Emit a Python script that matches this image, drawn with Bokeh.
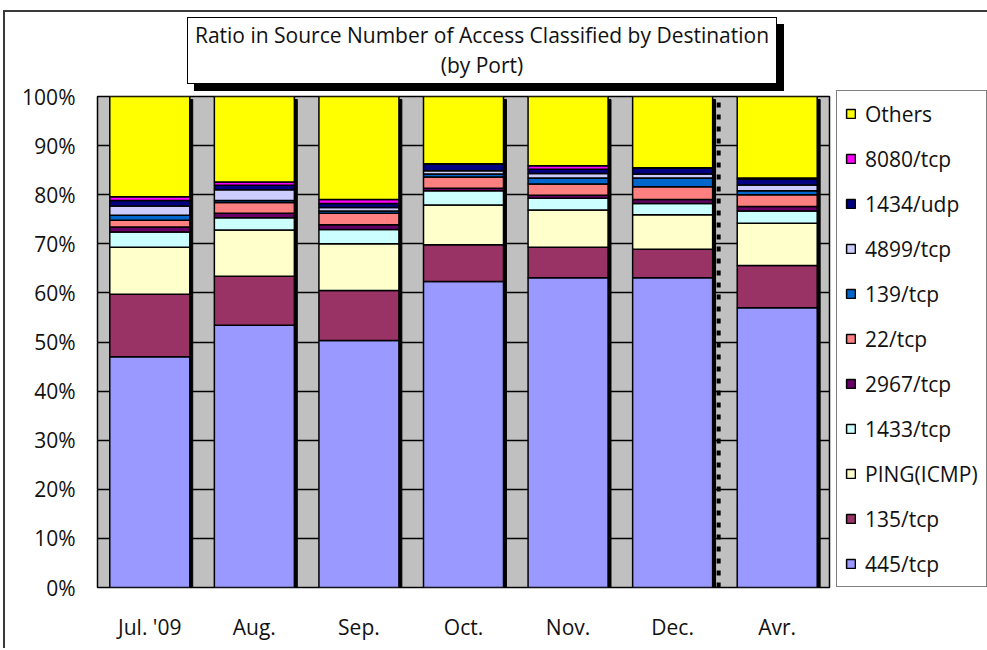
from bokeh.plotting import figure
from bokeh.models import (ColumnDataSource, FactorRange, FixedTicker, PrintfTickFormatter,
                          Legend, LegendItem, Div)
from bokeh.layouts import column
from bokeh.transform import dodge
from bokeh.embed import file_html
from bokeh.resources import INLINE

# ---------------- data (percent of source number) ----------------
months = ["Jul. '09", "Aug.", "Sep.", "Oct.", "Nov.", "Dec.", "Avr."]
ports = ["445/tcp", "135/tcp", "PING(ICMP)", "1433/tcp", "2967/tcp", "22/tcp",
         "139/tcp", "4899/tcp", "1434/udp", "8080/tcp", "Others"]

p445   = [47.0, 53.4, 50.3, 62.3, 63.1, 63.1, 57.0]
p135   = [12.7, 10.0, 10.2, 7.5, 6.2, 5.8, 8.6]
ping   = [9.6, 9.4, 9.5, 8.1, 7.6, 7.0, 8.6]
p1433  = [3.1, 2.5, 2.9, 2.9, 2.4, 2.3, 2.5]
p2967  = [1.0, 0.9, 1.0, 0.5, 0.6, 0.8, 0.9]
p22    = [1.4, 2.2, 2.3, 2.3, 2.3, 2.6, 2.4]
p139   = [1.0, 0.4, 0.5, 0.6, 1.2, 1.8, 0.8]
p4899  = [1.9, 2.2, 0.7, 0.7, 0.9, 0.8, 1.2]
p1434  = [1.1, 0.9, 0.8, 1.3, 0.9, 1.2, 1.2]
p8080  = [0.8, 0.7, 0.8, 0.1, 0.7, 0.1, 0.2]
others = [20.4, 17.4, 21.0, 13.7, 14.1, 14.5, 16.6]

colors = ["#9999FF", "#993366", "#FFFFCC", "#CCFFFF", "#660066", "#FF8080",
          "#0066CC", "#CCCCFF", "#000080", "#FF00FF", "#FFFF00"]

y_ticks = [0, 10, 20, 30, 40, 50, 60, 70, 80, 90, 100]
title_lines = ["Ratio in Source Number of Access Classified by Destination", "(by Port)"]
separator_after = "Dec."

FONT = "Open Sans"
TXT = "#111111"

series = [p445, p135, ping, p1433, p2967, p22, p139, p4899, p1434, p8080, others]
data = {"month": months}
for name, vals in zip(ports, series):
    data[name] = vals
totals = [sum(v) for v in zip(*series)]
data["shadow_top"] = [t - 0.6 for t in totals]
source = ColumnDataSource(data)

# ---------------- figure ----------------
p = figure(x_range=FactorRange(*months), y_range=(0, 100),
           frame_width=732, frame_height=491, output_backend="svg", toolbar_location=None,
           min_border_left=92, min_border_right=156, min_border_top=16, min_border_bottom=61,
           margin=0)

p.background_fill_color = "#C0C0C0"
p.border_fill_color = "white"
p.outline_line_color = "black"
p.outline_line_width = 1.5

p.xgrid.grid_line_color = None
p.ygrid.ticker = FixedTicker(ticks=y_ticks)
p.ygrid.grid_line_color = "black"
p.ygrid.grid_line_width = 1.5
p.ygrid.grid_line_alpha = 1.0

# bar shadows
p.vbar(x=dodge("month", 0.028, range=p.x_range), top="shadow_top", bottom=0, width=0.765,
       source=source, fill_color="black", line_color="black")

renderers = p.vbar_stack(ports, x="month", width=0.765, color=colors, source=source,
                         line_color="black", line_width=1.5)

# dotted separator between Dec. and Avr.
sep_src = ColumnDataSource({"m": [separator_after], "y0": [0], "y1": [100]})
p.segment(x0=dodge("m", 0.44, range=p.x_range), x1=dodge("m", 0.44, range=p.x_range),
          y0="y0", y1="y1", source=sep_src, line_color="black", line_width=4,
          line_dash="5 7", line_cap="butt")

# axes
p.yaxis.ticker = FixedTicker(ticks=y_ticks)
p.yaxis.formatter = PrintfTickFormatter(format="%d%%")
for ax in (p.xaxis[0], p.yaxis[0]):
    ax.axis_line_color = None
    ax.major_tick_line_color = None
    ax.minor_tick_line_color = None
    ax.major_tick_out = 0
    ax.major_tick_in = 0
    ax.minor_tick_out = 0
    ax.minor_tick_in = 0
    ax.major_label_text_font = FONT
    ax.major_label_text_font_size = "21px"
    ax.major_label_text_color = TXT
p.yaxis.major_label_standoff = 22
p.xaxis.major_label_standoff = 25

# legend (right side panel)
items = [LegendItem(label=name, renderers=[r]) for name, r in zip(ports, renderers)]
legend = Legend(items=items[::-1], location=(7, 0), border_line_color="black",
                border_line_width=1.5, padding=8, spacing=16, label_height=29,
                glyph_height=11, glyph_width=11, label_standoff=9, margin=0,
                label_text_font=FONT, label_text_font_size="21px",
                label_text_color=TXT, background_fill_color="white",
                background_fill_alpha=1.0)
p.add_layout(legend, "right")

# title box with drop shadow
title_html = (
    '<div style="padding:5px 0 0 182px;">'
    '<div style="width:590px; height:67px; box-sizing:border-box; background:white;'
    ' border:1.5px solid black; box-shadow:7px 7px 0 black; text-align:center;'
    f' font-family:\'{FONT}\', sans-serif; font-size:21px; line-height:30px; color:{TXT};'
    ' padding-top:2px; white-space:nowrap;">'
    f'{title_lines[0]}<br>{title_lines[1]}</div></div>'
)
title_div = Div(text=title_html, width=980, height=68, margin=0,
                styles={"overflow": "visible", "position": "relative", "z-index": "5"})

layout = column(title_div, p, margin=(10, 0, 0, 3),
                styles={"border-left": "2px solid #3a3a3a", "border-top": "2px solid #3a3a3a"})

open("out.html", "w").write(file_html(layout, INLINE))
